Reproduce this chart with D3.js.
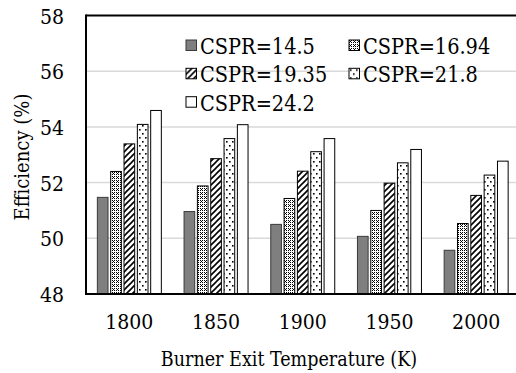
<!DOCTYPE html>
<html>
<head>
<meta charset="utf-8">
<script src="https://cdn.jsdelivr.net/npm/d3@7"></script>
<style>
  html, body { margin: 0; padding: 0; background: #fff; overflow: hidden; }
  svg text { font-family: "DejaVu Serif Condensed", "DejaVu Serif"; }
</style>
</head>
<body>
<svg id="chart" width="516" height="373"></svg>
<script>
// Burner exit temperature groups (K)
const temperatures = ["1800", "1850", "1900", "1950", "2000"];
// Series names (CSPR values)
const seriesNames = ["CSPR=14.5", "CSPR=16.94", "CSPR=19.35", "CSPR=21.8", "CSPR=24.2"];
// Efficiency (%) per series, one value per temperature
const cspr145  = [51.47, 50.96, 50.50, 50.07, 49.57];
const cspr1694 = [52.40, 51.88, 51.43, 51.00, 50.53];
const cspr1935 = [53.39, 52.86, 52.41, 51.98, 51.54];
const cspr218  = [54.09, 53.58, 53.11, 52.71, 52.27];
const cspr242  = [54.59, 54.08, 53.58, 53.19, 52.77];
const yTicks = [48, 50, 52, 54, 56, 58];

const seriesValues = [cspr145, cspr1694, cspr1935, cspr218, cspr242];

const svg = d3.select("#chart");
const margin = { left: 86, top: 15.5, right: 519.5, bottom: 294 };

// Fill patterns for the bars
const defs = svg.append("defs");

const pCheck = defs.append("pattern").attr("id", "pat-check")
  .attr("patternUnits", "userSpaceOnUse").attr("width", 4).attr("height", 4);
pCheck.append("rect").attr("width", 4).attr("height", 4).attr("fill", "#fff");
[[0,0],[2,0],[1,1],[0,2],[2,2]].forEach(([px, py]) =>
  pCheck.append("rect").attr("x", px).attr("y", py).attr("width", 1).attr("height", 1).attr("fill", "#000"));

const pDiag = defs.append("pattern").attr("id", "pat-diag")
  .attr("patternUnits", "userSpaceOnUse").attr("width", 6).attr("height", 6);
pDiag.append("rect").attr("width", 6).attr("height", 6).attr("fill", "#fff");
pDiag.append("path").attr("d", "M0,6 L6,0 M-1,1 L1,-1 M5,7 L7,5")
  .attr("stroke", "#000").attr("stroke-width", 1.6);

const pDots = defs.append("pattern").attr("id", "pat-dots")
  .attr("patternUnits", "userSpaceOnUse").attr("width", 6).attr("height", 8);
pDots.append("rect").attr("width", 6).attr("height", 8).attr("fill", "#fff");
[[1,1],[4,5]].forEach(([px, py]) =>
  pDots.append("rect").attr("x", px).attr("y", py).attr("width", 1.6).attr("height", 1.6).attr("fill", "#000"));

const fills = ["#7f7f7f", "url(#pat-check)", "url(#pat-diag)", "url(#pat-dots)", "#fff"];
const strokes = ["#3a3a3a", "#000", "#000", "#000", "#000"];

// Scales
const x = d3.scaleBand().domain(temperatures)
  .range([margin.left, margin.right])
  .paddingInner(0.262).paddingOuter(0.131);
const xs = d3.scaleBand().domain(d3.range(seriesNames.length))
  .range([0, x.bandwidth()]).paddingInner(0.2);
const y = d3.scaleLinear().domain([48, 58]).range([margin.bottom, margin.top]);

// Gridlines
svg.append("g").selectAll("line")
  .data(yTicks.filter(t => t > 48 && t < 58))
  .join("line")
  .attr("x1", margin.left).attr("x2", 516)
  .attr("y1", d => y(d)).attr("y2", d => y(d))
  .attr("stroke", "#d9d9d9").attr("stroke-width", 1.5);

// Bars
const groups = svg.append("g").selectAll("g")
  .data(seriesValues)
  .join("g");
groups.each(function(vals, si) {
  d3.select(this).selectAll("rect")
    .data(vals)
    .join("rect")
    .attr("x", (d, i) => x(temperatures[i]) + xs(si))
    .attr("width", xs.bandwidth())
    .attr("y", d => y(d))
    .attr("height", d => y(48) - y(d))
    .attr("fill", fills[si])
    .attr("stroke", strokes[si])
    .attr("stroke-width", 1);
});

// Frame: top and left borders, bottom axis
svg.append("line").attr("x1", margin.left).attr("x2", 516)
  .attr("y1", margin.top).attr("y2", margin.top)
  .attr("stroke", "#000").attr("stroke-width", 2);
svg.append("line").attr("x1", margin.left).attr("x2", margin.left)
  .attr("y1", margin.top - 1).attr("y2", margin.bottom + 1)
  .attr("stroke", "#000").attr("stroke-width", 2);
svg.append("line").attr("x1", margin.left - 1).attr("x2", 516)
  .attr("y1", margin.bottom).attr("y2", margin.bottom)
  .attr("stroke", "#000").attr("stroke-width", 2.2);

// Y axis labels
const yAxis = d3.axisLeft(y).tickValues(yTicks).tickSize(0).tickPadding(0).tickFormat(d3.format("d"));
const yg = svg.append("g").attr("transform", `translate(64,0)`).call(yAxis);
yg.attr("font-family", null).attr("font-size", null);
yg.select(".domain").remove();
yg.selectAll("text").attr("font-size", 21).attr("fill", "#000").attr("dy", "0.36em");

// X axis labels
const xAxis = d3.axisBottom(x).tickSize(0).tickPadding(0);
const xg = svg.append("g").attr("transform", `translate(0,314)`).call(xAxis);
xg.attr("font-family", null).attr("font-size", null);
xg.select(".domain").remove();
xg.selectAll("text").attr("font-size", 21).attr("fill", "#000").attr("dy", "0.71em");

// Axis titles
svg.append("text").attr("x", 289).attr("y", 366)
  .attr("text-anchor", "middle").attr("font-size", 19.5)
  .text("Burner Exit Temperature (K)");
svg.append("text").attr("transform", "translate(29,157) rotate(-90)")
  .attr("text-anchor", "middle").attr("font-size", 20)
  .text("Efficiency (%)");

// Legend
const legendPos = [[186, 40], [349, 40], [186, 68.3], [349, 68.3], [186, 96.7]];
const lg = svg.append("g").selectAll("g")
  .data(seriesNames)
  .join("g")
  .attr("transform", (d, i) => `translate(${legendPos[i][0]},${legendPos[i][1]})`);
lg.append("rect").attr("width", 10.5).attr("height", 10.5)
  .attr("fill", (d, i) => fills[i]).attr("stroke", (d, i) => strokes[i]).attr("stroke-width", 1);
lg.append("text").attr("x", 14).attr("y", 14)
  .attr("font-size", 21.5).attr("fill", "#000")
  .text(d => d);
</script>
</body>
</html>
